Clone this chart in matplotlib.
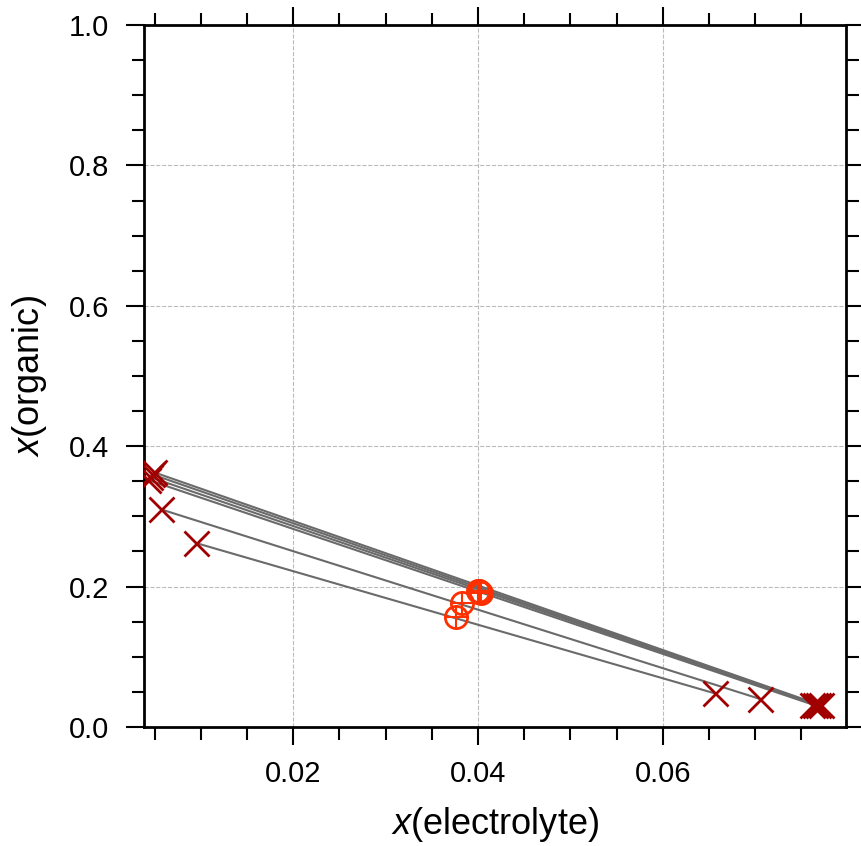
import matplotlib.pyplot as plt
from matplotlib.ticker import MultipleLocator

plt.rcParams['font.family'] = ['Liberation Sans', 'DejaVu Sans']
plt.rcParams['mathtext.fontset'] = 'custom'
plt.rcParams['mathtext.it'] = 'Liberation Sans:italic'
plt.rcParams['mathtext.rm'] = 'Liberation Sans'

# organic-phase end of each tie line
org_x = [0.0043, 0.0045, 0.0047, 0.0049, 0.0057, 0.0095]
org_y = [0.352, 0.356, 0.360, 0.363, 0.310, 0.262]
# aqueous-phase end of each tie line
aq_x = [0.0762, 0.0765, 0.0768, 0.0771, 0.0705, 0.0656]
aq_y = [0.032, 0.032, 0.031, 0.031, 0.040, 0.048]
# feed compositions
feed_x = [0.0400, 0.0401, 0.0402, 0.0403, 0.0383, 0.0376]
feed_y = [0.194, 0.193, 0.192, 0.191, 0.176, 0.156]

fig = plt.figure(figsize=(8.61, 8.46), dpi=100)
ax = fig.add_axes([0.1672, 0.1407, 0.8151, 0.8297])

for i in range(len(org_x)):
    ax.plot([org_x[i], aq_x[i]], [org_y[i], aq_y[i]], color='#6a6a6a', lw=1.5, zorder=2)

ax.plot(org_x, org_y, 'x', color='#a00000', ms=18, mew=2, zorder=3)
ax.plot(aq_x, aq_y, 'x', color='#a00000', ms=18, mew=2, zorder=3)
ax.plot(feed_x, feed_y, 'o', mfc='none', mec='#ff3000', ms=16, mew=2, zorder=4)
ax.plot(feed_x, feed_y, '+', color='#ff3000', ms=16, mew=1.5, zorder=4)

ax.set_xlim(0.00385, 0.0798)
ax.set_ylim(0.0, 1.0)
ax.xaxis.set_major_locator(MultipleLocator(0.02))
ax.xaxis.set_minor_locator(MultipleLocator(0.005))
ax.yaxis.set_major_locator(MultipleLocator(0.2))
ax.yaxis.set_minor_locator(MultipleLocator(0.05))
ax.xaxis.set_major_formatter(plt.FuncFormatter(lambda v, p: f'{v:.2f}'))
ax.yaxis.set_major_formatter(plt.FuncFormatter(lambda v, p: f'{v:.1f}'))

ax.tick_params(which='both', direction='out', top=True, right=True, width=1.5,
               labelsize=21)
ax.tick_params(which='major', length=13)
ax.tick_params(which='minor', length=9)
ax.tick_params(axis='x', which='major', pad=11)
ax.tick_params(axis='y', which='major', pad=12)
for s in ax.spines.values():
    s.set_linewidth(2)

ax.grid(which='major', color='#bbbbbb', linestyle='--', linewidth=0.8)
ax.set_axisbelow(True)

ax.set_xlabel(r'$x$(electrolyte)', fontsize=26, va='center')
ax.set_ylabel(r'$x$(organic)', fontsize=26, va='center')
ax.xaxis.set_label_coords(0.5, -0.1396)
ax.yaxis.set_label_coords(-0.1625, 0.5)

fig.savefig('out.png', dpi=100)
